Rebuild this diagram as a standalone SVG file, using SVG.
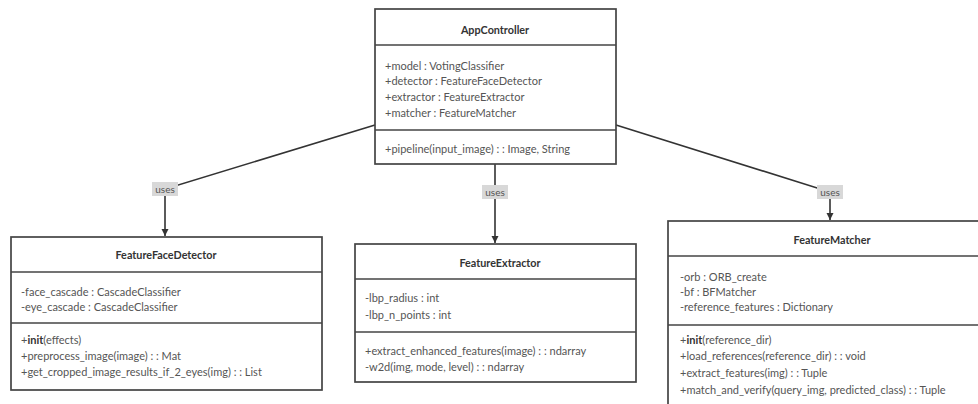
<svg xmlns="http://www.w3.org/2000/svg" width="978" height="404" viewBox="0 0 978 404">
  <defs>
    <marker id="arrow" markerWidth="8" markerHeight="8" refX="7" refY="4" orient="auto" markerUnits="userSpaceOnUse">
      <path d="M0,0.5 L7,4 L0,7.5 Z" fill="#333"/>
    </marker>
  </defs>
  <style>
    .box { fill: #ffffff; stroke: #444; stroke-width: 1.7; }
    .div { stroke: #444; stroke-width: 1.7; }
    .title { font-family: Lato, "Liberation Sans", sans-serif; font-size: 10.8px; font-weight: bold; fill: #333; text-anchor: middle; }
    .txt { font-family: Lato, "Liberation Sans", sans-serif; font-size: 11px; fill: #555; }
    .txt tspan.b { font-weight: bold; fill: #333; }
    .edge { fill: none; stroke: #333; stroke-width: 1.6; }
    .lbl-bg { fill: #d8d8d8; }
    .lbl { font-family: Lato, "Liberation Sans", sans-serif; font-size: 10px; fill: #555; text-anchor: middle; }
  </style>
  <rect width="978" height="404" fill="#ffffff"/>

  <!-- connectors -->
  <g id="connectors">
    <polyline class="edge" points="375,125 165,189 165,236" marker-end="url(#arrow)"/>
    <polyline class="edge" points="495,164 495,243" marker-end="url(#arrow)"/>
    <polyline class="edge" points="616,125 830,192 830,220" marker-end="url(#arrow)"/>
    <rect class="lbl-bg" x="152" y="182" width="26" height="14"/>
    <text class="lbl" x="165" y="192.5">uses</text>
    <rect class="lbl-bg" x="482" y="185" width="26" height="14"/>
    <text class="lbl" x="495" y="195.5">uses</text>
    <rect class="lbl-bg" x="817" y="185" width="26" height="14"/>
    <text class="lbl" x="830" y="195.5">uses</text>
  </g>

  <!-- AppController -->
  <g id="AppController">
    <rect class="box" x="375" y="9" width="241" height="155"/>
    <line class="div" x1="375" y1="45" x2="616" y2="45"/>
    <line class="div" x1="375" y1="130" x2="616" y2="130"/>
    <text class="title" x="495" y="34">AppController</text>
    <text class="txt" x="385" y="70">+model : VotingClassifier</text>
    <text class="txt" x="385" y="85">+detector : FeatureFaceDetector</text>
    <text class="txt" x="385" y="101">+extractor : FeatureExtractor</text>
    <text class="txt" x="385" y="117">+matcher : FeatureMatcher</text>
    <text class="txt" x="385" y="153">+pipeline(input_image) : : Image, String</text>
  </g>

  <!-- FeatureFaceDetector -->
  <g id="FeatureFaceDetector">
    <rect class="box" x="11" y="237" width="311" height="153"/>
    <line class="div" x1="11" y1="272" x2="322" y2="272"/>
    <line class="div" x1="11" y1="323" x2="322" y2="323"/>
    <text class="title" x="166" y="259">FeatureFaceDetector</text>
    <text class="txt" x="21" y="296">-face_cascade : CascadeClassifier</text>
    <text class="txt" x="21" y="311">-eye_cascade : CascadeClassifier</text>
    <text class="txt" x="21" y="344">+<tspan class="b">init</tspan>(effects)</text>
    <text class="txt" x="21" y="360">+preprocess_image(image) : : Mat</text>
    <text class="txt" x="21" y="376">+get_cropped_image_results_if_2_eyes(img) : : List</text>
  </g>

  <!-- FeatureExtractor -->
  <g id="FeatureExtractor">
    <rect class="box" x="355" y="244" width="281" height="138"/>
    <line class="div" x1="355" y1="279" x2="636" y2="279"/>
    <line class="div" x1="355" y1="332" x2="636" y2="332"/>
    <text class="title" x="500" y="267">FeatureExtractor</text>
    <text class="txt" x="365" y="302">-lbp_radius : int</text>
    <text class="txt" x="365" y="319">-lbp_n_points : int</text>
    <text class="txt" x="365" y="355">+extract_enhanced_features(image) : : ndarray</text>
    <text class="txt" x="365" y="371">-w2d(img, mode, level) : : ndarray</text>
  </g>

  <!-- FeatureMatcher -->
  <g id="FeatureMatcher">
    <rect class="box" x="668" y="221" width="330" height="200"/>
    <line class="div" x1="668" y1="256" x2="998" y2="256"/>
    <line class="div" x1="668" y1="325" x2="998" y2="325"/>
    <text class="title" x="832" y="244">FeatureMatcher</text>
    <text class="txt" x="680" y="281">-orb : ORB_create</text>
    <text class="txt" x="680" y="296">-bf : BFMatcher</text>
    <text class="txt" x="680" y="311">-reference_features : Dictionary</text>
    <text class="txt" x="680" y="344">+<tspan class="b">init</tspan>(reference_dir)</text>
    <text class="txt" x="680" y="360">+load_references(reference_dir) : : void</text>
    <text class="txt" x="680" y="377">+extract_features(img) : : Tuple</text>
    <text class="txt" x="680" y="394">+match_and_verify(query_img, predicted_class) : : Tuple</text>
  </g>
</svg>
